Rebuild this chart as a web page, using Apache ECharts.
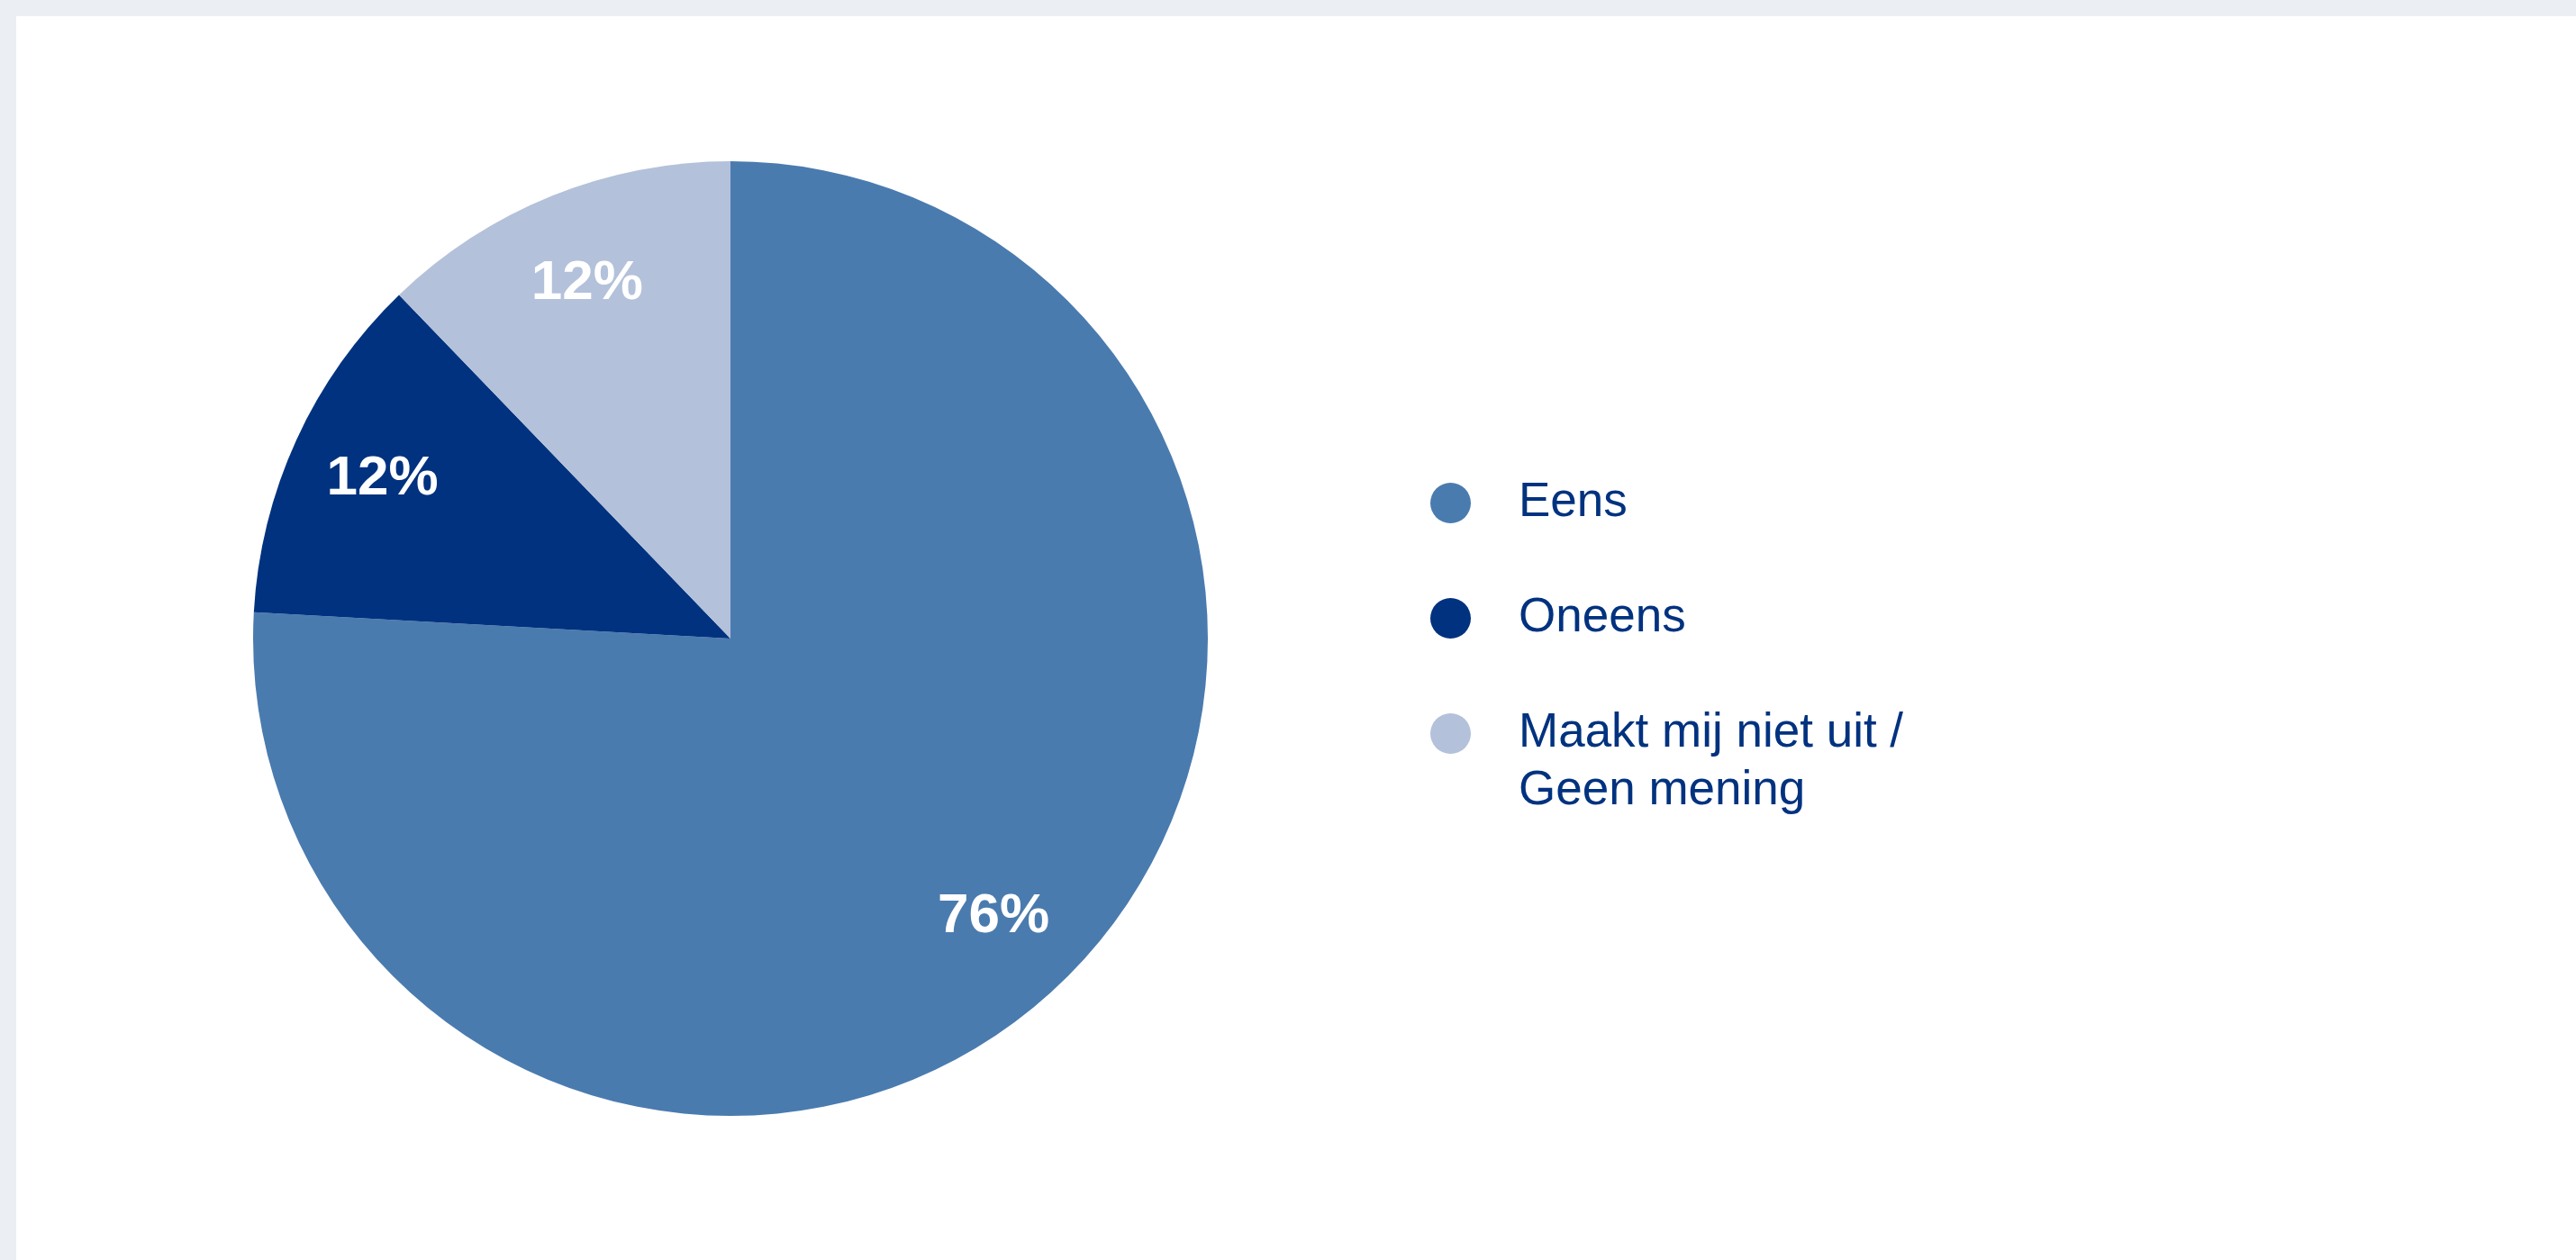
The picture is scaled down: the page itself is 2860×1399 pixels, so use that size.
<!DOCTYPE html>
<html><head><meta charset="utf-8">
<style>
html,body{margin:0;padding:0;background:#ebeef3;width:2860px;height:1399px;overflow:hidden}
#c{position:absolute;left:18px;top:18px;width:2842px;height:1381px;background:#ffffff}
</style>
<script src="https://cdn.jsdelivr.net/npm/echarts@6/dist/echarts.min.js"></script>
</head><body><div id="c"></div>
<script>
// ---- data ----
const categories = ['Eens', 'Oneens', 'Maakt mij niet uit / Geen mening'];
const values = [75.8, 11.9, 12.2];
const legendLines = [['Eens'], ['Oneens'], ['Maakt mij niet uit /', 'Geen mening']];

// ---- style ----
const colors = ['#4a7baf', '#00327f', '#b3c1da'];
const textBlue = '#00327f';

const pieData = categories.map((n, i) => ({ name: n, value: values[i], itemStyle: { color: colors[i] } }));
const labelData = categories.map((n, i) => ({ name: n, value: values[i] }));

const chart = echarts.init(document.getElementById('c'), null, { renderer: 'canvas' });
chart.setOption({
  animation: false,
  backgroundColor: '#ffffff',
  legend: {
    orient: 'vertical',
    left: 1570,
    top: 444.5,
    padding: 0,
    itemGap: -64,
    itemWidth: 45,
    itemHeight: 45,
    icon: 'circle',
    selectedMode: false,
    data: categories.map((n, i) => ({ name: n, itemStyle: { color: colors[i] } })),
    formatter: function (name) {
      const lines = legendLines[categories.indexOf(name)];
      return '\n' + lines.join('\n') + (lines.length === 1 ? '\n' : '');
    },
    textStyle: {
      color: textBlue,
      fontFamily: "'Liberation Sans', Arial, sans-serif",
      fontSize: 53,
      lineHeight: 64,
      padding: [0, 0, 0, 48]
    }
  },
  series: [
    {
      type: 'pie',
      center: [793, 691],
      radius: [0, 530],
      startAngle: 90,
      clockwise: true,
      avoidLabelOverlap: false,
      silent: true,
      label: { show: false },
      labelLine: { show: false },
      data: pieData
    },
    {
      type: 'pie',
      center: [793, 691],
      radius: [0, 844],
      startAngle: 90,
      clockwise: true,
      avoidLabelOverlap: false,
      silent: true,
      itemStyle: { color: 'rgba(0,0,0,0)' },
      labelLine: { show: false },
      label: {
        show: true,
        position: 'inside',
        formatter: p => Math.round(p.value) + '%',
        color: '#ffffff',
        fontFamily: "'Liberation Sans', Arial, sans-serif",
        fontWeight: 'bold',
        fontSize: 62
      },
      data: labelData
    }
  ]
});
</script>
</body></html>
